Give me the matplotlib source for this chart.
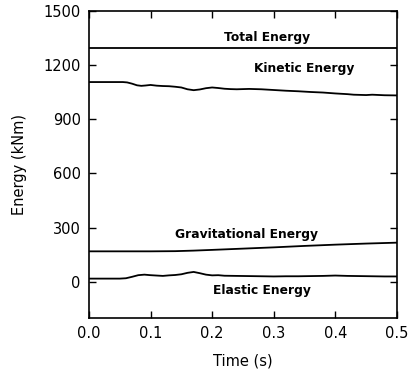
import matplotlib as mpl
import matplotlib.pyplot as plt
import numpy as np

mpl.rcParams['font.family'] = ['DejaVu Sans']

# 数据
t_total = [0.0, 0.5]
e_total = [1292, 1292]

t_kin = [0.0, 0.055, 0.062, 0.07, 0.078, 0.085, 0.092, 0.10, 0.11, 0.12, 0.13, 0.14,
         0.15, 0.16, 0.17, 0.18, 0.19, 0.20, 0.21, 0.22, 0.23, 0.24, 0.26, 0.28,
         0.30, 0.32, 0.34, 0.36, 0.38, 0.40, 0.42, 0.43, 0.44, 0.45, 0.46, 0.48, 0.50]
e_kin = [1106, 1106, 1104, 1097, 1088, 1085, 1087, 1090, 1086, 1084, 1083, 1080,
         1076, 1066, 1061, 1065, 1072, 1076, 1073, 1069, 1067, 1066, 1068, 1066,
         1062, 1058, 1055, 1051, 1048, 1043, 1039, 1036, 1035, 1034, 1036, 1033, 1032]

t_grav = [0.0, 0.05, 0.10, 0.14, 0.17, 0.20, 0.25, 0.30, 0.35, 0.40, 0.45, 0.50]
e_grav = [169, 169, 169, 170, 173, 177, 184, 191, 199, 206, 212, 217]

t_ela = [0.0, 0.05, 0.06, 0.07, 0.08, 0.09, 0.10, 0.11, 0.12, 0.13, 0.14, 0.15,
         0.16, 0.17, 0.18, 0.19, 0.20, 0.21, 0.22, 0.24, 0.26, 0.28, 0.30, 0.32,
         0.34, 0.36, 0.38, 0.40, 0.42, 0.44, 0.46, 0.48, 0.50]
e_ela = [18, 18, 20, 28, 37, 40, 37, 35, 33, 36, 38, 42,
         50, 55, 48, 40, 36, 37, 34, 33, 32, 31, 30, 31,
         31, 32, 33, 35, 33, 32, 31, 30, 30]

labels = ['Total Energy', 'Kinetic Energy', 'Gravitational Energy', 'Elastic Energy']
label_pos = [(0.29, 1355), (0.35, 1182), (0.255, 260), (0.281, -50)]

# 绘图
fig = plt.figure(figsize=(4.1, 3.75), dpi=100)
ax = fig.add_axes([0.217, 0.152, 0.751, 0.819])

for t, e in [(t_total, e_total), (t_kin, e_kin), (t_grav, e_grav), (t_ela, e_ela)]:
    ax.plot(t, e, color='black', lw=1.3)

for s, (x, y) in zip(labels, label_pos):
    ax.text(x, y, s, ha='center', va='center', fontsize=8.8, fontweight='bold')

ax.set_xlim(0, 0.5)
ax.set_ylim(-200, 1500)
ax.set_xticks(np.arange(0, 0.51, 0.1))
ax.set_xticklabels(['0.0', '0.1', '0.2', '0.3', '0.4', '0.5'])
ax.set_yticks([0, 300, 600, 900, 1200, 1500])
ax.tick_params(direction='in', top=True, right=True, length=5, width=1,
               labelsize=10.5, pad=6)
for sp in ax.spines.values():
    sp.set_linewidth(1.2)

ax.set_xlabel('Time (s)', fontsize=10.5, labelpad=9)
ax.set_ylabel('Energy (kNm)', fontsize=10.5, labelpad=12)

fig.savefig('out.png', dpi=100)
